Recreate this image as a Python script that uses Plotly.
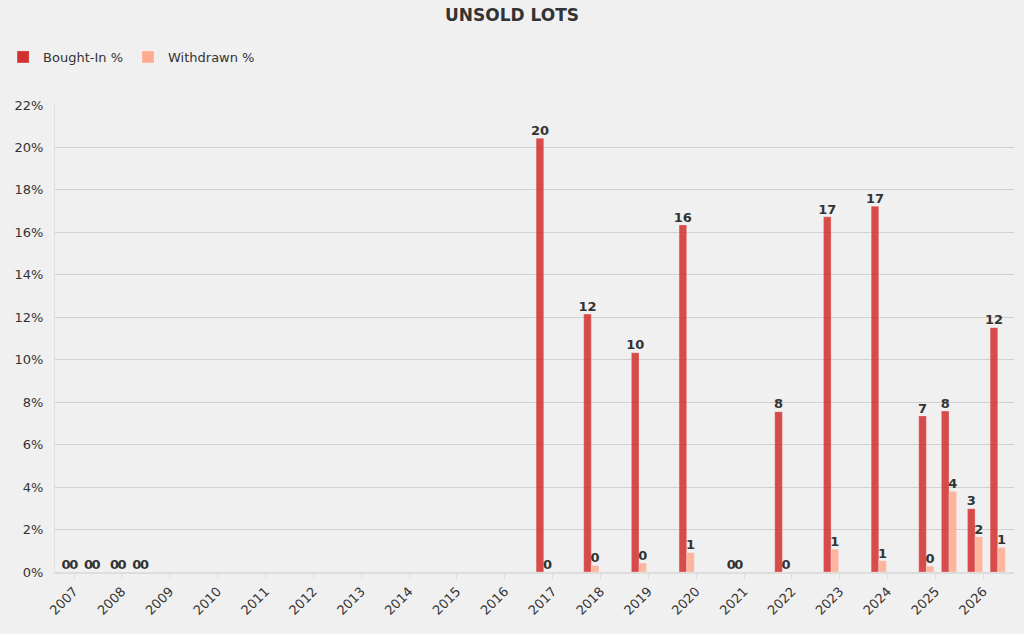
import pandas as pd
import plotly.graph_objects as go

# auction dates (sale seasons)
dates = [
    "2006-12-01", "2007-05-20", "2007-12-05", "2008-05-24",
    "2016-10-25", "2017-10-23", "2018-10-22", "2019-10-21",
    "2020-10-24", "2021-10-20", "2022-10-27", "2023-10-26",
    "2024-10-23", "2025-04-14", "2025-10-30", "2026-04-21",
]
bought_in = [0, 0, 0, 0, 20.43, 12.15, 10.33, 16.35, 0, 7.55, 16.73, 17.23, 7.35, 7.58, 2.98, 11.51]
withdrawn = [0, 0, 0, 0, 0, 0.30, 0.42, 0.91, 0, 0, 1.07, 0.53, 0.27, 3.80, 1.66, 1.16]

font_family = "DejaVu Sans"
bar_days = 58
bar_w = bar_days * 86400000  # ms
dt = pd.to_datetime(dates)

def make_bar(name, y, color, offset):
    return go.Bar(
        x=dates, y=y, name=name,
        width=bar_w, offset=offset,
        marker=dict(color=color, opacity=0.85,
                    line=dict(color="rgba(255,255,255,0.5)", width=0.5)),
        hoverinfo="x+y",
    )

def make_labels(y, shift_days):
    xs = dt + pd.Timedelta(days=shift_days)
    return go.Scatter(
        x=xs, y=y, mode="text",
        text=[f"{v:.0f}" for v in y],
        textposition="top center",
        textfont=dict(family=font_family, size=13, color="#333333", weight="bold"),
        showlegend=False, hoverinfo="skip", cliponaxis=False,
    )

fig = go.Figure([
    make_bar("Bought-In %", bought_in, "#d32f2f", -bar_w),
    make_bar("Withdrawn %", withdrawn, "#ffab91", 0),
    make_labels(bought_in, -bar_days / 2),
    make_labels(withdrawn, bar_days / 2),
])

fig.update_layout(
    width=1024, height=634,
    paper_bgcolor="#f0f0f0", plot_bgcolor="#f0f0f0",
    font=dict(family=font_family, size=13, color="#333333"),
    margin=dict(l=55, r=10, t=105, b=62),
    barmode="overlay",
    title=dict(text="<b>UNSOLD LOTS</b>", x=0.5, xanchor="center",
               yref="container", y=0.976, yanchor="middle",
               font=dict(size=17, color="#333333")),
    legend=dict(orientation="h", xref="container", yref="container",
                x=0.003, y=1 - 42 / 634, xanchor="left", yanchor="top",
                font=dict(size=13, color="#333333"), itemwidth=30,
                bgcolor="rgba(0,0,0,0)"),
    showlegend=True,
)

fig.update_xaxes(
    type="date", range=["2006-08-09", "2026-08-23"],
    tick0="2007-01-01", dtick="M12", tickformat="%Y", tickangle=-45,
    ticks="outside", ticklen=5, tickcolor="#dddddd",
    showline=True, linecolor="#dddddd", linewidth=1.5,
    showgrid=False, zeroline=False,
    tickfont=dict(size=13, color="#333333"),
)
fig.update_yaxes(
    range=[0, 22], dtick=2, ticksuffix="%",
    showgrid=True, gridcolor="#d0d0d0", gridwidth=1,
    showline=True, linecolor="#e0e0e0", zeroline=False,
    ticks="", ticklabelstandoff=8, tickfont=dict(size=13, color="#333333"),
)

fig.write_html(
    "out.html",
    config={"displayModeBar": False},
    post_script="document.body.style.margin='0';document.body.style.background='#f0f0f0';",
)
